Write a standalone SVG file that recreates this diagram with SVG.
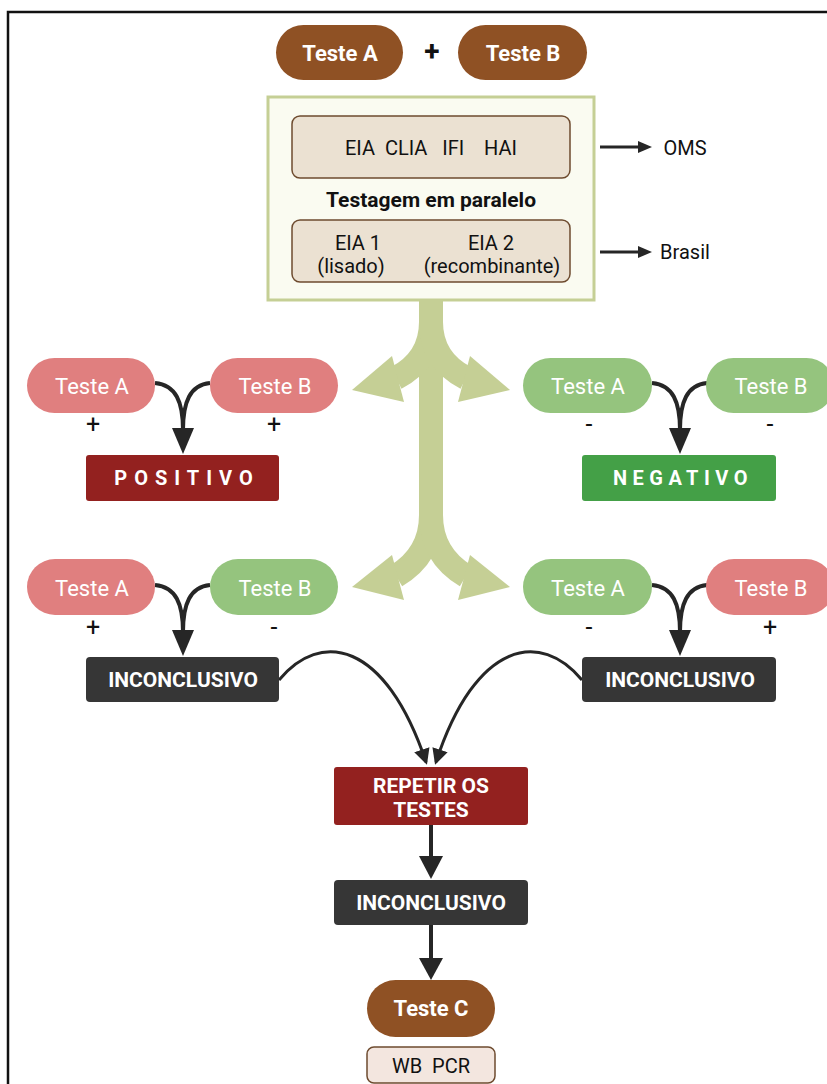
<svg xmlns="http://www.w3.org/2000/svg" width="827" height="1084" viewBox="0 0 827 1084">
<style>
text{font-family:Roboto,"Liberation Sans",sans-serif;text-anchor:middle}
.brown{fill:#8F5124}
.pink{fill:#E07F7F}
.green{fill:#95C47E}
.pl{fill:#fff;font-size:22px}
.bw{fill:#fff;font-size:22px;font-weight:bold}
.bx{fill:#fff;font-size:21px;font-weight:bold}
.sign{fill:#111;font-size:25px}
.conn{fill:none;stroke:#262626;stroke-width:4}
.thin{fill:none;stroke:#262626;stroke-width:3}
.head{fill:#262626}
.big{fill:none;stroke:#C5CF95;stroke-width:24}
.bighead{fill:#C5CF95}
.inner{fill:#EBE1D2;stroke:#6E4B2F;stroke-width:1.5}
.dk{fill:#111;font-size:20px}
</style>
<defs>
<marker id="ah" viewBox="0 0 16 16" refX="13" refY="8" markerWidth="16" markerHeight="16" markerUnits="userSpaceOnUse" orient="auto">
<path d="M0,0 L16,8 L0,16 Z" fill="#262626"/>
</marker>
</defs>
<rect x="8" y="12" width="840" height="1100" fill="#fff" stroke="#111" stroke-width="2.5"/>

<g id="connectors">
<path class="big" d="M431,300 L431,530"/>
<path class="big" d="M431,300 L431,322 Q431,360 396,378"/>
<path class="big" d="M431,300 L431,322 Q431,360 466,378"/>
<polygon class="bighead" points="352,390 392,356 404,402"/>
<polygon class="bighead" points="510,390 470,356 458,402"/>
<path class="big" d="M431,500 L431,515 Q431,555 396,576"/>
<path class="big" d="M431,500 L431,515 Q431,555 466,576"/>
<polygon class="bighead" points="352,587 392,555 404,600"/>
<polygon class="bighead" points="510,587 470,555 458,600"/>
<path class="thin" d="M600,147 L640,147"/>
<polygon class="head" points="638,141 652,147 638,153"/>
<path class="thin" d="M600,252 L640,252"/>
<polygon class="head" points="638,246 652,252 638,258"/>
<path class="conn" d="M155,383 C176,385 183,402 183,430"/>
<path class="conn" d="M210,383 C190,385 183,402 183,430"/>
<polygon class="head" points="172,428 194,428 183,454"/>
<path class="conn" d="M652,383 C673,385 680,402 680,430"/>
<path class="conn" d="M707,383 C687,385 680,402 680,430"/>
<polygon class="head" points="669,428 691,428 680,454"/>
<path class="conn" d="M155,585 C176,587 183,604 183,632"/>
<path class="conn" d="M210,585 C190,587 183,604 183,632"/>
<polygon class="head" points="172,630 194,630 183,656"/>
<path class="conn" d="M652,585 C673,587 680,604 680,632"/>
<path class="conn" d="M707,585 C687,587 680,604 680,632"/>
<polygon class="head" points="669,630 691,630 680,656"/>
<path class="thin" d="M279,680 C320,630 385,640 426,762" marker-end="url(#ah)"/>
<path class="thin" d="M582,680 C541,630 476,640 436,762" marker-end="url(#ah)"/>
<path class="conn" d="M431,825 L431,858"/>
<polygon class="head" points="419,856 443,856 431,879"/>
<path class="conn" d="M431,925 L431,960"/>
<polygon class="head" points="419,958 443,958 431,980"/>
</g>

<g id="testeA-top"><rect class="brown" x="276" y="25" width="127" height="55" rx="27.5"/><text class="bw" x="340" y="61">Teste A</text></g>
<g id="plus-top"><text x="432" y="61" style="font-size:28px;font-weight:bold;fill:#111">+</text></g>
<g id="testeB-top"><rect class="brown" x="458" y="25" width="129" height="55" rx="27.5"/><text class="bw" x="523" y="61">Teste B</text></g>

<g id="paralelo">
<rect x="268" y="97" width="326" height="203" fill="#FAFBF1" stroke="#C5CF95" stroke-width="3"/>
<rect class="inner" x="292" y="116" width="278" height="62" rx="8"/>
<text class="dk" x="431" y="155" xml:space="preserve">EIA  CLIA   IFI    HAI</text>
<text x="431" y="207" style="font-size:21px;font-weight:bold;fill:#111">Testagem em paralelo</text>
<rect class="inner" x="292" y="220" width="278" height="62" rx="8"/>
<text class="dk" x="358" y="250">EIA 1</text>
<text class="dk" x="351" y="273">(lisado)</text>
<text class="dk" x="491" y="250">EIA 2</text>
<text class="dk" x="492" y="273">(recombinante)</text>
</g>
<g id="oms"><text x="685" y="155" style="font-size:20px;fill:#111">OMS</text></g>
<g id="brasil"><text x="685" y="259" style="font-size:20px;fill:#111">Brasil</text></g>

<g id="r1-left-A"><rect class="pink" x="27" y="358" width="128" height="55" rx="27.5"/><text class="pl" x="92" y="394">Teste A</text><text class="sign" x="93" y="433">+</text></g>
<g id="r1-left-B"><rect class="pink" x="210" y="358" width="128" height="55" rx="27.5"/><text class="pl" x="275" y="394">Teste B</text><text class="sign" x="274" y="433">+</text></g>
<g id="positivo"><rect x="86" y="455" width="193" height="46" rx="3" fill="#93211F"/><text class="bx" x="187" y="485" style="letter-spacing:7px;font-size:20px">POSITIVO</text></g>

<g id="r1-right-A"><rect class="green" x="523" y="358" width="129" height="55" rx="27.5"/><text class="pl" x="588" y="394">Teste A</text><text class="sign" x="589" y="433">-</text></g>
<g id="r1-right-B"><rect class="green" x="706" y="358" width="128" height="55" rx="27.5"/><text class="pl" x="771" y="394">Teste B</text><text class="sign" x="770" y="433">-</text></g>
<g id="negativo"><rect x="582" y="455" width="194" height="46" rx="3" fill="#44A047"/><text class="bx" x="683" y="485" style="letter-spacing:5.5px;font-size:20px">NEGATIVO</text></g>

<g id="r2-left-A"><rect class="pink" x="27" y="559" width="128" height="56" rx="28"/><text class="pl" x="92" y="596">Teste A</text><text class="sign" x="93" y="636">+</text></g>
<g id="r2-left-B"><rect class="green" x="210" y="559" width="128" height="56" rx="28"/><text class="pl" x="275" y="596">Teste B</text><text class="sign" x="274" y="636">-</text></g>
<g id="inconc-left"><rect x="86" y="657" width="193" height="45" rx="4" fill="#363636"/><text class="bx" x="183" y="687">INCONCLUSIVO</text></g>

<g id="r2-right-A"><rect class="green" x="523" y="559" width="129" height="56" rx="28"/><text class="pl" x="588" y="596">Teste A</text><text class="sign" x="589" y="636">-</text></g>
<g id="r2-right-B"><rect class="pink" x="706" y="559" width="128" height="56" rx="28"/><text class="pl" x="771" y="596">Teste B</text><text class="sign" x="770" y="636">+</text></g>
<g id="inconc-right"><rect x="582" y="657" width="194" height="45" rx="4" fill="#363636"/><text class="bx" x="680" y="687">INCONCLUSIVO</text></g>

<g id="repetir"><rect x="334" y="767" width="194" height="58" rx="3" fill="#93211F"/><text class="bx" x="431" y="793">REPETIR OS</text><text class="bx" x="431" y="817">TESTES</text></g>
<g id="inconc-bottom"><rect x="334" y="880" width="194" height="45" rx="4" fill="#363636"/><text class="bx" x="431" y="910">INCONCLUSIVO</text></g>
<g id="testeC"><rect class="brown" x="367" y="980" width="128" height="57" rx="28.5"/><text class="bw" x="431" y="1016">Teste C</text></g>
<g id="wbpcr"><rect x="367" y="1047" width="128" height="36" rx="7" fill="#F3E6DF" stroke="#6E4B2F" stroke-width="1.5"/><text class="dk" x="431" y="1073" xml:space="preserve">WB  PCR</text></g>
</svg>
